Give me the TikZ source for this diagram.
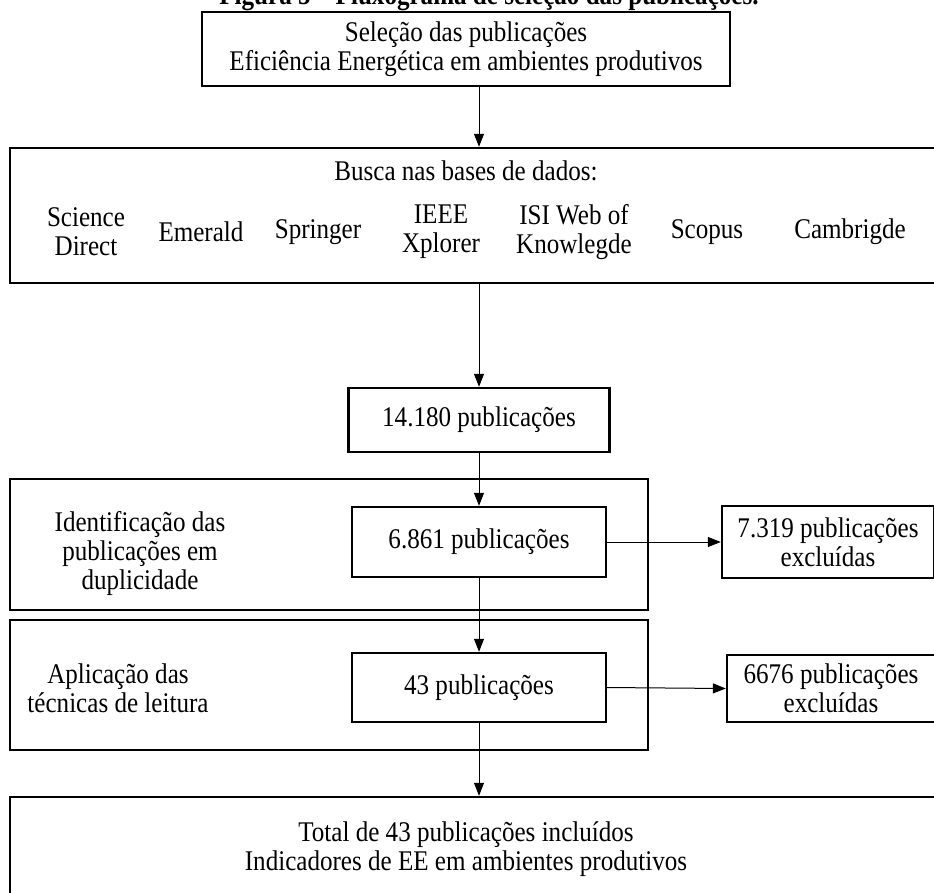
\documentclass[tikz,border=0pt]{standalone}
\usepackage{fontspec}
\setmainfont{Liberation Serif}[FakeStretch=0.88]
\usetikzlibrary{arrows.meta}
\tikzset{
  box/.style={draw=black, line width=2.4pt, inner sep=0pt, align=center, font=\fontsize{28.5}{29}\selectfont},
  lbl/.style={inner sep=0pt, align=center, font=\fontsize{28.5}{29}\selectfont},
  arr/.style={line width=1pt, -{Triangle[width=10pt,length=13pt]}},
}
\begin{document}
\begin{tikzpicture}[x=1pt,y=-1pt]
\useasboundingbox (0,0) rectangle (934,892);
\begin{scope}
\clip (0,0) rectangle (934,892);
% caption, partly off the page
\node[lbl, font=\bfseries\fontsize{28.5}{29}\selectfont, anchor=base] (cap) at (489,4) {Figura 5 -- Fluxograma de seleção das publicações.};

% top box
\node[box, minimum width=528pt, minimum height=74pt] (sel) at (466,49)
  {Seleção das publicações\\Eficiência Energética em ambientes produtivos};

% search box with the databases
\node[box, minimum width=940pt, minimum height=135pt] (busca) at (480,215.5) {};
\node[lbl] (bt) at (466,171) {Busca nas bases de dados:};
\node[lbl] (d1) at (86,232) {Science\\Direct};
\node[lbl] (d2) at (201,232) {Emerald};
\node[lbl] (d3) at (318,232) {Springer};
\node[lbl] (d4) at (441,232) {IEEE\\Xplorer};
\node[lbl] (d5) at (574,232) {ISI Web of\\Knowlegde};
\node[lbl] (d6) at (707,232) {Scopus};
\node[lbl] (d7) at (850,232) {Cambrigde};

% count boxes
\node[box, minimum width=261pt, minimum height=64pt] (n1) at (479,420) {14.180 publicações};

\node[box, minimum width=638pt, minimum height=131pt] (g1) at (329,544.5) {};
\node[lbl] (g1t) at (140,553) {Identificação das\\publicações em\\duplicidade};
\node[box, minimum width=254pt, minimum height=70pt] (n2) at (479,542) {6.861 publicações};
\node[box, minimum width=212pt, minimum height=72pt] (x1) at (828,542) {7.319 publicações\\excluídas};

\node[box, minimum width=638pt, minimum height=130pt] (g2) at (329,685) {};
\node[lbl] (g2t) at (118,688) {Aplicação das\\técnicas de leitura};
\node[box, minimum width=254pt, minimum height=69pt] (n3) at (479,687.5) {43 publicações};
\node[box, minimum width=208pt, minimum height=67pt] (x2) at (831,688.5) {6676 publicações\\excluídas};

% final box
\node[box, minimum width=940pt, minimum height=130pt] (fim) at (480,862) {};
\node[lbl] (fimt) at (466,849) {Total de 43 publicações incluídos\\Indicadores de EE em ambientes produtivos};

% connectors
\draw[arr] (sel.south -| n1.north) -- (busca.north -| n1.north);
\draw[arr] (busca.south -| n1.north) -- (n1.north);
\draw[arr] (n1.south) -- (n2.north);
\draw[arr] (n2.east) -- (x1.west);
\draw[arr] (n2.south) -- (n3.north);
\draw[arr] (n3.east) -- (x2.west);
\draw[arr] (n3.south) -- (fim.north -| n3.south);
\end{scope}
\end{tikzpicture}
\end{document}
